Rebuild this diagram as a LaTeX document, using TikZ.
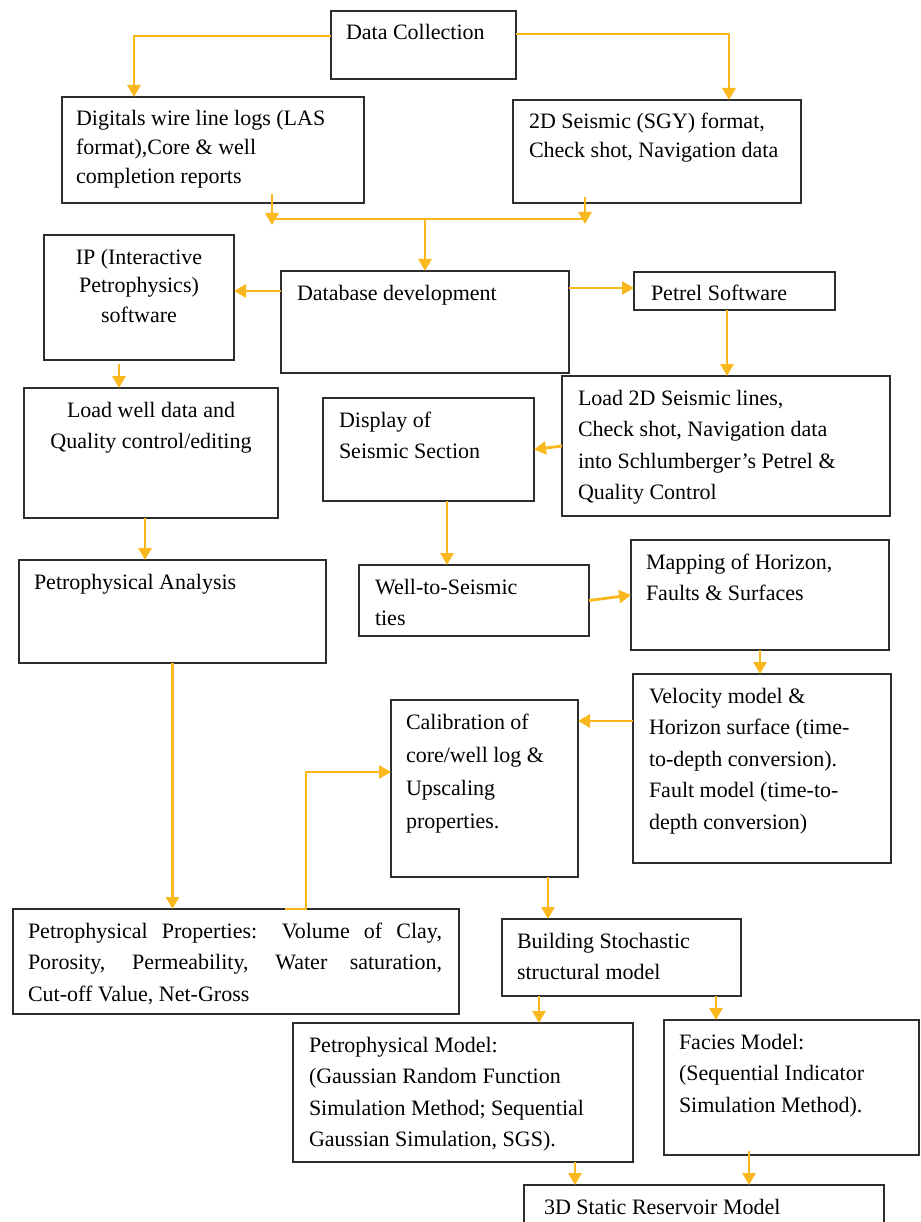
\documentclass[tikz,border=0pt]{standalone}
\usepackage{fontspec}
\setmainfont{Liberation Serif}
\usetikzlibrary{arrows.meta,calc}
\definecolor{arrc}{RGB}{250,183,30}
\definecolor{boxc}{RGB}{45,45,45}
\tikzset{
  fbox/.style={draw=boxc, line width=1.8pt, inner sep=0pt, outer sep=0pt, anchor=north west, font=\fontsize{22}{31.5}\selectfont},
  arr/.style={draw=arrc, line width=2.8pt, -{Triangle[length=12pt,width=13pt]}},
  ln/.style={draw=arrc, line width=2.8pt}
}
\newcommand\fbx[7]{\node[fbox] (#1) at (#2,#3) {\parbox[c][\dimexpr #5pt-#3pt\relax][t]{\dimexpr #4pt-#2pt\relax}{\raggedright\leftskip=#6pt\relax\rule{0pt}{29pt}#7}};}
\newcommand\cbx[6]{\node[fbox] (#1) at (#2,#3) {\parbox[c][\dimexpr #5pt-#3pt\relax][t]{\dimexpr #4pt-#2pt\relax}{\centering\rule{0pt}{29pt}#6}};}
\begin{document}
\begin{tikzpicture}[x=1pt,y=-1pt]
\useasboundingbox (0,0) rectangle (920,1222);
\fbx{dc}{331}{11}{516}{79}{15}{Data Collection}
\fbx{dig}{62}{97}{364}{203}{14}{\fontsize{22}{29}\selectfont Digitals wire line logs (LAS\\format),Core \& well\\completion reports}
\fbx{seis}{513}{100}{801}{203}{16}{\fontsize{22}{29}\selectfont 2D Seismic (SGY) format,\\Check shot, Navigation data}
\cbx{ip}{44}{235}{234}{360}{\fontsize{22}{29}\selectfont IP (Interactive\\Petrophysics)\\software}
\fbx{db}{281}{271}{569}{373}{16}{Database development}
\fbx{pet}{634}{272}{835}{310}{17}{Petrel Software}
\fbx{l2d}{562}{376}{890}{516}{16}{Load 2D Seismic lines,\\Check shot, Navigation data\\into Schlumberger’s Petrel \&\\Quality Control}
\fbx{disp}{323}{398}{534}{501}{16}{Display of\\Seismic Section}
\cbx{lw}{24}{388}{278}{518}{Load well data and\\Quality control/editing}
\fbx{pa}{19}{560}{326}{663}{15}{Petrophysical Analysis}
\fbx{wts}{359}{565}{589}{636}{16}{Well-to-Seismic\\ties}
\fbx{map}{631}{540}{889}{650}{15}{Mapping of Horizon,\\Faults \& Surfaces}
\fbx{vel}{633}{674}{891}{863}{16}{Velocity model \&\\Horizon surface (time-\\to-depth conversion).\\Fault model (time-to-\\depth conversion)}
\fbx{cal}{391}{700}{578}{877}{15}{\fontsize{22}{33}\selectfont Calibration of\\core/well log \&\\Upscaling\\properties.}
\fbx{pp}{13}{909}{459}{1014}{15}{\makebox[414pt][s]{Petrophysical Properties: Volume of Clay,}\\\makebox[414pt][s]{Porosity, Permeability, Water saturation,}\\Cut-off Value, Net-Gross}
\fbx{bsm}{502}{919}{741}{996}{15}{Building Stochastic\\structural model}
\fbx{pm}{293}{1023}{633}{1162}{16}{Petrophysical Model:\\(Gaussian Random Function\\Simulation Method; Sequential\\Gaussian Simulation, SGS).}
\fbx{fm}{664}{1020}{919}{1155}{15}{Facies Model:\\(Sequential Indicator\\Simulation Method).}
\fbx{tdm}{524}{1185}{884}{1250}{20}{3D Static Reservoir Model}
% connectors
\coordinate (dcL) at ([yshift=-25pt]dc.north west);
\draw[arr] (dcL) -| ([xshift=72pt]dig.north west);
\coordinate (dcR) at ([yshift=-23pt]dc.north east);
\draw[arr] (dcR) -| ([xshift=216pt]seis.north west);
\coordinate (jl) at ([xshift=210pt,yshift=-16pt]dig.south west);
\coordinate (jr) at ([xshift=73pt,yshift=-16pt]seis.south west);
\draw[ln] (jl) -- (jr);
\draw[arr] ([xshift=210pt,yshift=9pt]dig.south west) -- ([xshift=210pt,yshift=-22pt]dig.south west);
\draw[arr] ([xshift=72pt,yshift=6pt]seis.south west) -- ([xshift=72pt,yshift=-21pt]seis.south west);
\draw[arr] (db.north |- jl) -- (db.north);
\coordinate (dbL) at ([yshift=-20pt]db.north west);
\draw[arr] (dbL) -- (dbL -| ip.east);
\coordinate (dbR) at ([yshift=-17pt]db.north east);
\draw[arr] (dbR) -- (dbR -| pet.west);
\coordinate (petB) at ([xshift=93pt]pet.south west);
\draw[arr] (petB) -- (petB |- l2d.north);
\draw[arr] (l2d.west) -- (disp.east);
\coordinate (ipB) at ([xshift=75pt,yshift=-4pt]ip.south west);
\draw[arr] (ipB) -- (ipB |- lw.north);
\coordinate (lwB) at ([xshift=121pt]lw.south west);
\draw[arr] (lwB) -- (lwB |- pa.north);
\coordinate (dispB) at ([xshift=124pt]disp.south west);
\draw[arr] (dispB) -- (dispB |- wts.north);
\draw[arr] (wts.east) -- (map.west);
\draw[arr] (map.south) -- (map.south |- vel.north);
\coordinate (velL) at ([yshift=-47pt]vel.north west);
\draw[arr] (velL) -- (velL -| cal.east);
\draw[arr] (pa.south) -- (pa.south |- pp.north);
\coordinate (ppA) at ([xshift=272pt]pp.north west);
\coordinate (ppB) at ([xshift=293pt]pp.north west);
\coordinate (calL) at ([yshift=-72pt]cal.north west);
\draw[arr] (ppA) -- (ppB) |- (calL);
\coordinate (calB) at ([xshift=157pt]cal.south west);
\draw[arr] (calB) -- (calB |- bsm.north);
\coordinate (bsmA) at ([xshift=37pt]bsm.south west);
\draw[arr] (bsmA) -- (bsmA |- pm.north);
\coordinate (bsmB) at ([xshift=214pt]bsm.south west);
\draw[arr] (bsmB) -- (bsmB |- fm.north);
\coordinate (pmB) at ([xshift=282pt]pm.south west);
\draw[arr] (pmB) -- (pmB |- tdm.north);
\coordinate (fmB) at ([xshift=85pt,yshift=4pt]fm.south west);
\draw[arr] (fmB) -- (fmB |- tdm.north);
\end{tikzpicture}
\end{document}
